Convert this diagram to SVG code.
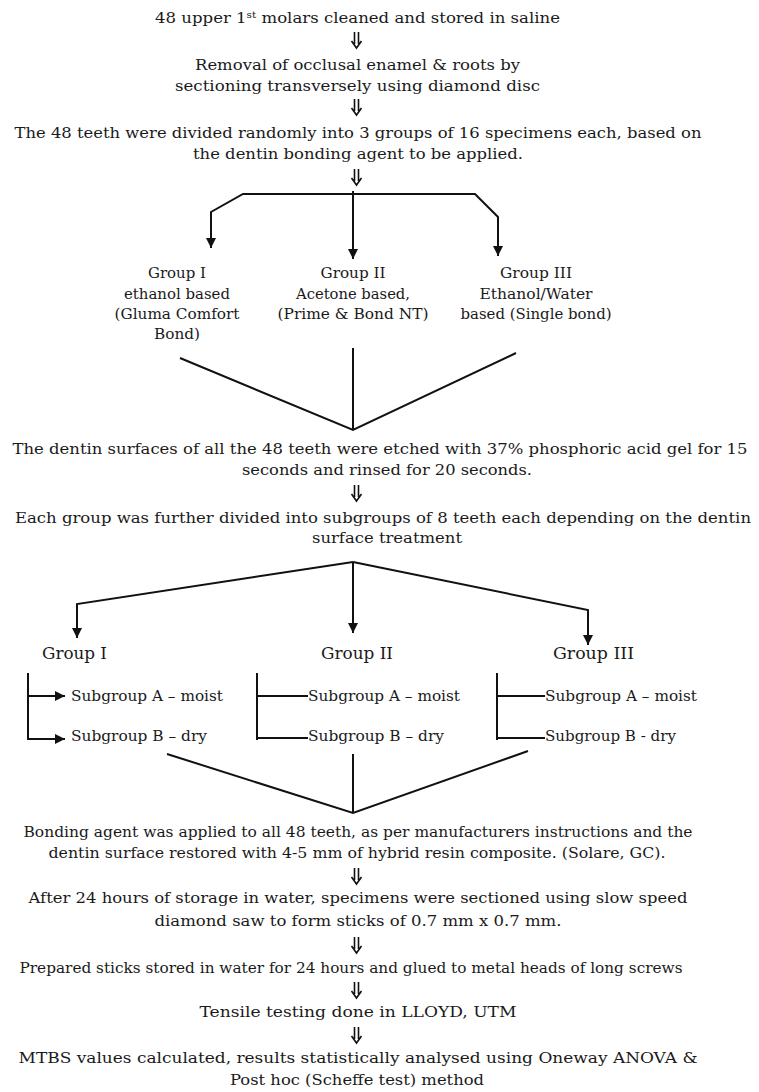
<svg xmlns="http://www.w3.org/2000/svg" width="759" height="1092" viewBox="0 0 759 1092">
<defs>
<style>
text{font-family:"DejaVu Serif","Liberation Serif",serif;fill:#1a1a1a}
.t{font-size:15px;text-anchor:middle}
.s{font-size:14px;text-anchor:middle}
.g{font-size:15px;text-anchor:middle}
.h{font-size:16.5px;text-anchor:start}
.gl{font-size:14.5px;text-anchor:start}
.c{fill:none;stroke:#111;stroke-width:2}
.d{fill:none;stroke:#111;stroke-width:1.6}
</style>
<marker id="ah" viewBox="0 0 10 10" refX="10" refY="5" markerWidth="5" markerHeight="5" markerUnits="strokeWidth" orient="auto">
<path d="M0,0 L10,5 L0,10 Z" fill="#111"/>
</marker>
</defs>
<rect width="759" height="1092" fill="#fff"/>

<g id="n1"><text class="t" x="357.5" y="23" textLength="405" lengthAdjust="spacingAndGlyphs">48 upper 1<tspan font-size="9.5" dy="-5">st</tspan><tspan dy="5"> molars cleaned and stored in saline</tspan></text></g>
<g id="n2">
<text class="t" x="357.5" y="70" textLength="325" lengthAdjust="spacingAndGlyphs">Removal of occlusal enamel &amp; roots by</text>
<text class="t" x="357.5" y="91" textLength="365" lengthAdjust="spacingAndGlyphs">sectioning transversely using diamond disc</text>
</g>
<g id="n3">
<text class="t" x="358" y="138" textLength="687" lengthAdjust="spacingAndGlyphs">The 48 teeth were divided randomly into 3 groups of 16 specimens each, based on</text>
<text class="t" x="358" y="159" textLength="330" lengthAdjust="spacingAndGlyphs">the dentin bonding agent to be applied.</text>
</g>
<g id="g1">
<text class="g" x="177" y="278" textLength="58" lengthAdjust="spacingAndGlyphs">Group I</text>
<text class="g" x="177" y="299" textLength="106" lengthAdjust="spacingAndGlyphs">ethanol based</text>
<text class="g" x="177" y="319" textLength="125" lengthAdjust="spacingAndGlyphs">(Gluma Comfort</text>
<text class="g" x="177" y="339" textLength="46" lengthAdjust="spacingAndGlyphs">Bond)</text>
</g>
<g id="g2">
<text class="g" x="353" y="278" textLength="65" lengthAdjust="spacingAndGlyphs">Group II</text>
<text class="g" x="353" y="299" textLength="114" lengthAdjust="spacingAndGlyphs">Acetone based,</text>
<text class="g" x="353" y="319" textLength="151" lengthAdjust="spacingAndGlyphs">(Prime &amp; Bond NT)</text>
</g>
<g id="g3">
<text class="g" x="536" y="278" textLength="72" lengthAdjust="spacingAndGlyphs">Group III</text>
<text class="g" x="536" y="299" textLength="113" lengthAdjust="spacingAndGlyphs">Ethanol/Water</text>
<text class="g" x="536" y="319" textLength="151" lengthAdjust="spacingAndGlyphs">based (Single bond)</text>
</g>
<g id="n4">
<text class="t" x="380" y="454" textLength="735" lengthAdjust="spacingAndGlyphs">The dentin surfaces of all the 48 teeth were etched with 37% phosphoric acid gel for 15</text>
<text class="t" x="387" y="475" textLength="290" lengthAdjust="spacingAndGlyphs">seconds and rinsed for 20 seconds.</text>
</g>
<g id="n5">
<text class="t" x="383" y="523" textLength="736" lengthAdjust="spacingAndGlyphs">Each group was further divided into subgroups of 8 teeth each depending on the dentin</text>
<text class="t" x="387" y="543" textLength="150" lengthAdjust="spacingAndGlyphs">surface treatment</text>
</g>
<g id="s1">
<text class="h" x="42" y="659" textLength="65" lengthAdjust="spacingAndGlyphs">Group I</text>
<text class="gl" x="71" y="701" textLength="152" lengthAdjust="spacingAndGlyphs">Subgroup A – moist</text>
<text class="gl" x="71" y="741" textLength="136" lengthAdjust="spacingAndGlyphs">Subgroup B – dry</text>
</g>
<g id="s2">
<text class="h" x="321" y="659" textLength="72" lengthAdjust="spacingAndGlyphs">Group II</text>
<text class="gl" x="308" y="701" textLength="152" lengthAdjust="spacingAndGlyphs">Subgroup A – moist</text>
<text class="gl" x="308" y="741" textLength="136" lengthAdjust="spacingAndGlyphs">Subgroup B – dry</text>
</g>
<g id="s3">
<text class="h" x="553" y="659" textLength="81" lengthAdjust="spacingAndGlyphs">Group III</text>
<text class="gl" x="545" y="701" textLength="152" lengthAdjust="spacingAndGlyphs">Subgroup A – moist</text>
<text class="gl" x="545" y="741" textLength="131" lengthAdjust="spacingAndGlyphs">Subgroup B - dry</text>
</g>
<g id="n6">
<text class="t" x="358" y="837" textLength="669" lengthAdjust="spacingAndGlyphs">Bonding agent was applied to all 48 teeth, as per manufacturers instructions and the</text>
<text class="t" x="357" y="858" textLength="617" lengthAdjust="spacingAndGlyphs">dentin surface restored with 4-5 mm of hybrid resin composite. (Solare, GC).</text>
</g>
<g id="n7">
<text class="t" x="358" y="903" textLength="659" lengthAdjust="spacingAndGlyphs">After 24 hours of storage in water, specimens were sectioned using slow speed</text>
<text class="t" x="358" y="926" textLength="407" lengthAdjust="spacingAndGlyphs">diamond saw to form sticks of 0.7 mm x 0.7 mm.</text>
</g>
<g id="n8"><text class="s" x="351" y="973" textLength="663" lengthAdjust="spacingAndGlyphs">Prepared sticks stored in water for 24 hours and glued to metal heads of long screws</text></g>
<g id="n9"><text class="t" x="358" y="1017" textLength="317" lengthAdjust="spacingAndGlyphs">Tensile testing done in LLOYD, UTM</text></g>
<g id="n10">
<text class="t" x="358" y="1063" textLength="679" lengthAdjust="spacingAndGlyphs">MTBS values calculated, results statistically analysed using Oneway ANOVA &amp;</text>
<text class="t" x="357" y="1085" textLength="254" lengthAdjust="spacingAndGlyphs">Post hoc (Scheffe test) method</text>
</g>

<g id="connectors">
<path class="d" d="M354.5,32V44M358.5,32V44M351.5,41L356.5,48L361.5,41"/>
<path class="d" d="M354.5,99V111M358.5,99V111M351.5,108L356.5,115L361.5,108"/>
<path class="d" d="M354.5,169V181M358.5,169V181M351.5,178L356.5,185L361.5,178"/>
<path class="c" d="M353,194H243L211,212V248" marker-end="url(#ah)"/>
<path class="c" d="M353,191V259" marker-end="url(#ah)"/>
<path class="c" d="M353,194H475L498,217V256" marker-end="url(#ah)"/>
<path class="c" d="M180,358L353,430L516,353M353,348V430"/>
<path class="d" d="M354.5,485V497M358.5,485V497M351.5,494L356.5,501L361.5,494"/>
<path class="c" d="M353,562L77,604V638" marker-end="url(#ah)"/>
<path class="c" d="M353,562V633" marker-end="url(#ah)"/>
<path class="c" d="M353,562L588,610V645" marker-end="url(#ah)"/>
<path class="c" d="M28,673V740"/>
<path class="c" d="M28,696H65" marker-end="url(#ah)"/>
<path class="c" d="M28,739H65" marker-end="url(#ah)"/>
<path class="c" d="M257,673V740M257,696H308M257,738H308"/>
<path class="c" d="M497,673V740M497,696H545M497,738H545"/>
<path class="c" d="M167,754L353,813L528,751M353,754V813"/>
<path class="d" d="M354.5,868V880M358.5,868V880M351.5,877L356.5,884L361.5,877"/>
<path class="d" d="M354.5,937V949M358.5,937V949M351.5,946L356.5,953L361.5,946"/>
<path class="d" d="M354.5,982V994M358.5,982V994M351.5,991L356.5,998L361.5,991"/>
<path class="d" d="M354.5,1027V1039M358.5,1027V1039M351.5,1036L356.5,1043L361.5,1036"/>
</g>
</svg>
